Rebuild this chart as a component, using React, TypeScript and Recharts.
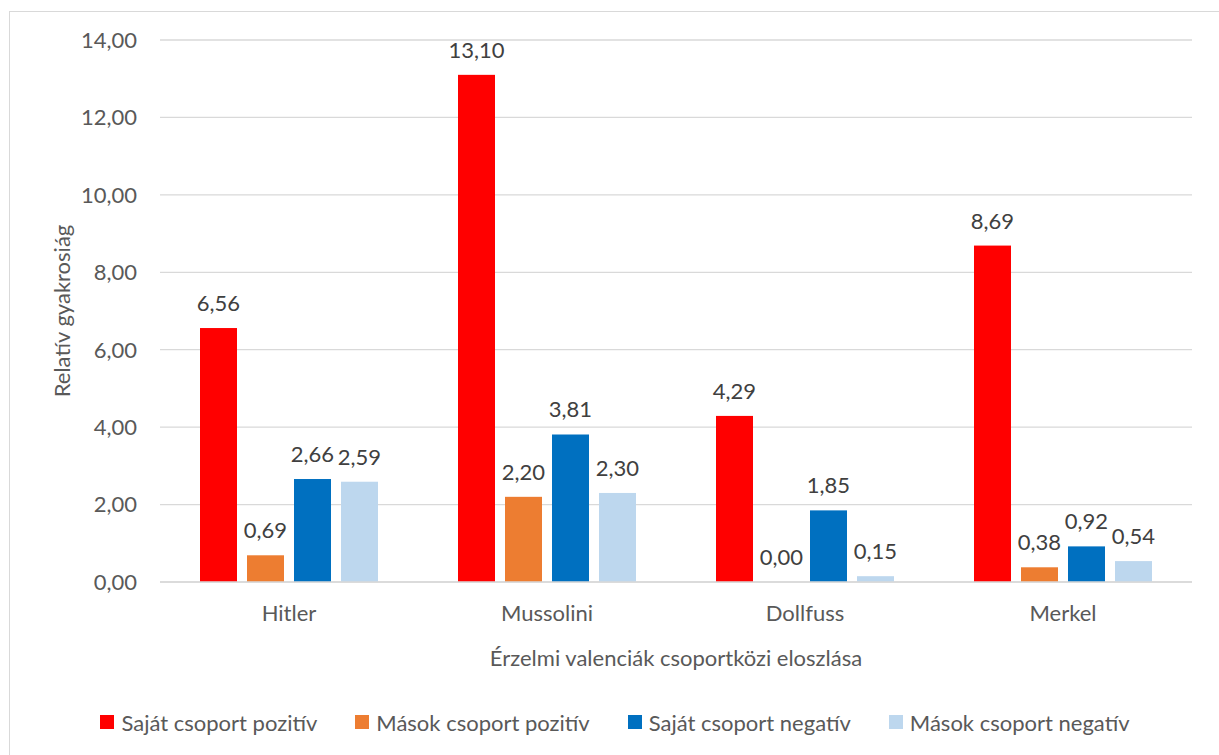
import React from "react";
import {
  BarChart, Bar, XAxis, YAxis, CartesianGrid, Legend, Label,
} from "recharts";

const categories = ["Hitler", "Mussolini", "Dollfuss", "Merkel"];
const sajatPozitiv = [6.56, 13.1, 4.29, 8.69];
const masokPozitiv = [0.69, 2.2, 0.0, 0.38];
const sajatNegativ = [2.66, 3.81, 1.85, 0.92];
const masokNegativ = [2.59, 2.3, 0.15, 0.54];
const yTicks = [0, 2, 4, 6, 8, 10, 12, 14];

const seriesNames = [
  "Saját csoport pozitív",
  "Mások csoport pozitív",
  "Saját csoport negatív",
  "Mások csoport negatív",
];
const colors = ["#FF0000", "#ED7D31", "#0070C0", "#BDD7EE"];

const data = categories.map((c, i) => ({
  name: c,
  s0: sajatPozitiv[i],
  s1: masokPozitiv[i],
  s2: sajatNegativ[i],
  s3: masokNegativ[i],
}));

const FONT = "Lato, 'Noto Sans', sans-serif";
const FS = 22;
const fmt = (v: any) => Number(v).toFixed(2).replace(".", ",");

// bar + value label drawn together so that zero-height bars still get "0,00"
const BarWithLabel = (props: any) => {
  const { x, y, width, height, fill, value } = props;
  const v = Array.isArray(value) ? value[1] - value[0] : value;
  return (
    <g>
      {height > 0 && <rect x={x} y={y} width={width} height={height} fill={fill} />}
      <text
        x={x + width / 2}
        y={y - 17}
        textAnchor="middle"
        fill="#404040"
        fontSize={FS}
        fontFamily={FONT}
      >
        {fmt(v)}
      </text>
    </g>
  );
};

const LegendContent = () => (
  <div style={{ display: "flex", justifyContent: "center", fontFamily: FONT, fontSize: FS, color: "#595959", height: 26, alignItems: "center" }}>
    {seriesNames.map((n, i) => (
      <div key={n} style={{ display: "flex", alignItems: "center", marginRight: i < 3 ? 38 : 0 }}>
        <span style={{ width: 14, height: 14, background: colors[i], display: "inline-block", marginRight: 7 }} />
        <span>{n}</span>
      </div>
    ))}
  </div>
);

export default function App() {
  return (
    <div
      style={{
        position: "absolute",
        left: 9,
        top: 11,
        width: 1210,
        height: 744,
        borderLeft: "1px solid #d9d9d9",
        borderTop: "1px solid #d9d9d9",
        background: "#fff",
      }}
    >
      <BarChart
        width={1210}
        height={744}
        data={data}
        margin={{ top: 28, right: 28, bottom: 48, left: 20 }}
        barCategoryGap={40}
        barGap={10}
        style={{ fontFamily: FONT }}
      >
        <CartesianGrid vertical={false} stroke="#d9d9d9" strokeWidth={1.3} />
        <XAxis
          dataKey="name"
          axisLine={{ stroke: "#d9d9d9", strokeWidth: 1.3 }}
          tickLine={false}
          tickSize={0}
          tickMargin={23}
          height={100}
          tick={{ fill: "#595959", fontSize: FS }}
        >
          <Label value="Érzelmi valenciák csoportközi eloszlása" position="insideBottom" offset={16} fill="#595959" fontSize={FS} />
        </XAxis>
        <YAxis
          domain={[0, 14]}
          ticks={yTicks}
          width={130}
          axisLine={false}
          tickLine={false}
          tickSize={0}
          tickMargin={23}
          tickFormatter={fmt}
          tick={{ fill: "#595959", fontSize: FS }}
        >
          <Label
            content={(p: any) => {
              const vb = p.viewBox || { x: 20, y: 28, height: 542 };
              const cx = vb.x + 31;
              const cy = vb.y + vb.height / 2;
              return (
                <text
                  x={cx}
                  y={cy}
                  transform={`rotate(-90 ${cx} ${cy})`}
                  textAnchor="middle"
                  dominantBaseline="central"
                  fill="#595959"
                  fontSize={FS}
                  fontFamily={FONT}
                >
                  Relatív gyakrosiág
                </text>
              );
            }}
          />
        </YAxis>
        <Legend
          content={<LegendContent />}
          wrapperStyle={{ top: 697, left: 0, width: 1210, height: 26 }}
        />
        {["s0", "s1", "s2", "s3"].map((k, i) => (
          <Bar
            key={k}
            dataKey={k}
            name={seriesNames[i]}
            fill={colors[i]}
            isAnimationActive={false}
            shape={<BarWithLabel />}
          />
        ))}
      </BarChart>
    </div>
  );
}
